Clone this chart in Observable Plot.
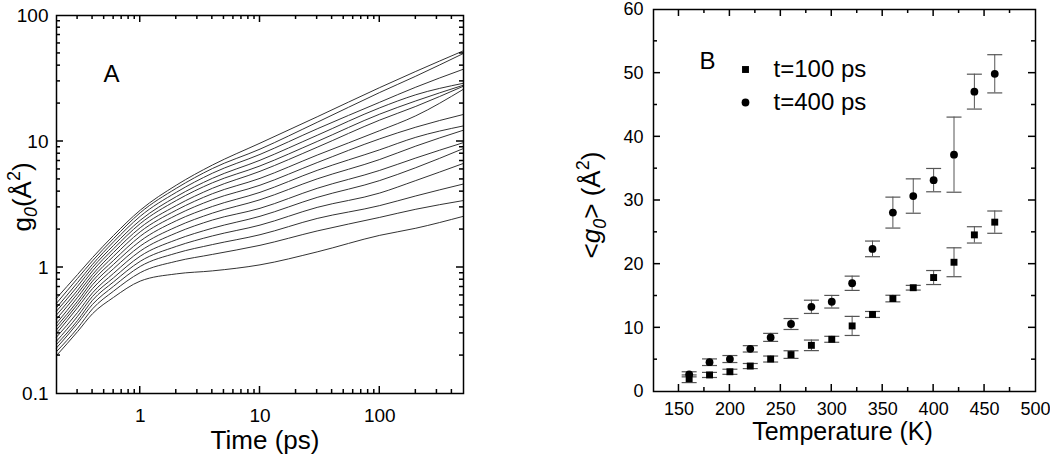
<!DOCTYPE html>
<html>
<head>
<meta charset="utf-8">
<script src="https://cdn.jsdelivr.net/npm/d3@7"></script>
<script src="https://cdn.jsdelivr.net/npm/@observablehq/plot@0.6"></script>
<style>
  body { margin: 0; background: #fff; }
  #wrap { position: relative; width: 1050px; height: 456px; overflow: hidden; background: #fff; }
  #wrap svg { position: absolute; top: 0; overflow: visible; }
</style>
</head>
<body>
<div id="wrap"></div>
<script>
// ---------------- Panel A data: g0(t) curves, one per temperature ----------------
const times = [0.2, 0.3, 0.4, 0.6, 1, 2, 4, 10, 30, 100, 200, 500];
const curveTemps = [160, 180, 200, 220, 240, 260, 280, 300, 320, 340, 360, 380, 400, 420, 440, 460];
const g160 = [0.20, 0.31, 0.43, 0.58, 0.78, 0.89, 0.94, 1.05, 1.33, 1.8, 2.05, 2.55];
const g180 = [0.215, 0.33, 0.47, 0.65, 0.91, 1.12, 1.27, 1.5, 1.95, 2.5, 2.9, 3.4];
const g200 = [0.23, 0.36, 0.51, 0.71, 1.02, 1.3, 1.52, 1.82, 2.45, 3.1, 3.7, 4.6];
const g220 = [0.245, 0.38, 0.55, 0.77, 1.12, 1.47, 1.78, 2.17, 3.0, 3.9, 4.9, 6.7];
const g240 = [0.26, 0.41, 0.59, 0.83, 1.23, 1.66, 2.05, 2.55, 3.6, 4.9, 6.2, 8.8];
const g260 = [0.28, 0.44, 0.63, 0.9, 1.35, 1.88, 2.38, 2.95, 4.25, 5.9, 7.4, 9.8];
const g280 = [0.30, 0.48, 0.68, 0.98, 1.48, 2.1, 2.7, 3.45, 5.05, 7.2, 9.2, 12.3];
const g300 = [0.32, 0.51, 0.73, 1.06, 1.62, 2.35, 3.05, 3.95, 5.9, 8.6, 10.8, 13.3];
const g320 = [0.34, 0.54, 0.78, 1.14, 1.77, 2.6, 3.45, 4.5, 6.8, 10.5, 13, 16.4];
const g340 = [0.36, 0.58, 0.83, 1.23, 1.92, 2.85, 3.85, 5.1, 7.8, 12.2, 16, 26];
const g360 = [0.39, 0.62, 0.88, 1.32, 2.07, 3.1, 4.25, 5.8, 9.0, 14.8, 19, 27.5];
const g380 = [0.42, 0.66, 0.94, 1.41, 2.23, 3.4, 4.7, 6.4, 10.0, 16.5, 21, 28];
const g400 = [0.45, 0.71, 1.0, 1.5, 2.37, 3.65, 5.1, 7.1, 11.2, 18.5, 23.5, 29];
const g420 = [0.48, 0.76, 1.06, 1.6, 2.55, 3.95, 5.6, 7.9, 12.6, 20.5, 27, 37.5];
const g440 = [0.52, 0.82, 1.13, 1.7, 2.72, 4.25, 6.1, 8.7, 14.2, 24.5, 33, 50];
const g460 = [0.57, 0.88, 1.2, 1.8, 2.85, 4.5, 6.5, 9.7, 15.7, 26.8, 36, 52.5];
const curves = [g160, g180, g200, g220, g240, g260, g280, g300, g320, g340, g360, g380, g400, g420, g440, g460];

const xTicksA = [1, 10, 100];
const yTicksA = [0.1, 1, 10, 100];

// ---------------- Panel B data: <g0> vs temperature ----------------
const temps = [160, 180, 200, 220, 240, 260, 280, 300, 320, 340, 360, 380, 400, 420, 440, 460];
const g0_100ps = [2.0, 2.6, 3.1, 4.0, 5.1, 5.8, 7.25, 8.2, 10.3, 12.1, 14.6, 16.3, 17.9, 20.3, 24.6, 26.6];
const err_100ps = [0.6, 0.4, 0.4, 0.4, 0.47, 0.6, 0.83, 0.47, 1.5, 0.47, 0.52, 0.37, 1.1, 2.27, 1.28, 1.75];
const g0_400ps = [2.7, 4.6, 5.1, 6.7, 8.5, 10.6, 13.3, 14.1, 17.0, 22.4, 28.1, 30.7, 33.2, 37.2, 47.1, 49.9];
const err_400ps = [0.4, 0.52, 0.55, 0.5, 0.63, 0.86, 1.04, 0.99, 1.12, 1.23, 2.43, 2.7, 1.83, 5.9, 2.74, 3.0];
const seriesNames = ["t=100 ps", "t=400 ps"];

const xTicksB = [150, 200, 250, 300, 350, 400, 450, 500];
const yTicksB = [0, 10, 20, 30, 40, 50, 60];

// ---------------- helpers ----------------
const FONT = "Arial, 'Liberation Sans', Helvetica, sans-serif";
const H = 456;

function logMinor(lo, hi) {
  const out = [];
  for (const dec of [0.1, 1, 10, 100])
    for (let k = 2; k <= 9; k++) {
      const v = +(k * dec).toPrecision(3);
      if (v > lo && v < hi) out.push(v);
    }
  return out;
}
const CAP = {draw(ctx, size) { const r = Math.sqrt(size / Math.PI); ctx.moveTo(-r, 0); ctx.lineTo(r, 0); }};

// inward ticks on all four sides, positioned with the plot's own x/y scales
function inwardTicks(svg, xMaj, xMin, yMaj, yMin) {
  const sx = svg.scale("x"), sy = svg.scale("y");
  const [xl, xr] = [Math.min(...sx.range), Math.max(...sx.range)];
  const [yt, yb] = [Math.min(...sy.range), Math.max(...sy.range)];
  const g = d3.select(svg).append("g").attr("stroke", "#000").attr("stroke-width", 1.5)
    .attr("aria-label", "inward ticks");
  for (const [vals, len] of [[xMaj, 7], [xMin, 4]]) for (const v of vals) {
    const x = sx.apply(v);
    g.append("line").attr("x1", x).attr("x2", x).attr("y1", yb).attr("y2", yb - len);
    g.append("line").attr("x1", x).attr("x2", x).attr("y1", yt).attr("y2", yt + len);
  }
  for (const [vals, len] of [[yMaj, 7], [yMin, 4]]) for (const v of vals) {
    const y = sy.apply(v);
    g.append("line").attr("y1", y).attr("y2", y).attr("x1", xl).attr("x2", xl + len);
    g.append("line").attr("y1", y).attr("y2", y).attr("x1", xr).attr("x2", xr - len);
  }
}

// ---------------- Panel A ----------------
const rowsA = [];
curves.forEach((arr, k) => arr.forEach((g, j) => rowsA.push({T: curveTemps[k], t: times[j], g})));

const svgA = Plot.plot({
  width: 520, height: H,
  marginLeft: 56, marginRight: 57, marginTop: 15, marginBottom: 63,
  style: {fontFamily: FONT, background: "transparent", color: "#000"},
  x: {type: "log", domain: [0.2, 500], label: null},
  y: {type: "log", domain: [0.1, 100], label: null},
  marks: [
    Plot.line(rowsA, {x: "t", y: "g", z: "T", stroke: "#333", strokeWidth: 1, curve: "monotone-x"}),
    Plot.frame({stroke: "#000", strokeWidth: 1.5}),
    Plot.axisX({ticks: xTicksA, anchor: "bottom", tickSize: 0, tickPadding: 15, label: null,
                fontSize: 19, tickFormat: d => String(d)}),
    Plot.axisY({ticks: yTicksA, anchor: "left", tickSize: 0, tickPadding: 8, label: null,
                fontSize: 19, tickFormat: d => String(d)}),
    Plot.text(["A"], {frameAnchor: "top-left", dx: 55, dy: 59, text: d => d, fontSize: 24,
                      textAnchor: "middle", lineAnchor: "middle"}),
    Plot.text(["Time (ps)"], {frameAnchor: "bottom", dx: 5, dy: 37, text: d => d, fontSize: 26,
                              textAnchor: "middle", lineAnchor: "top"})
  ]
});
svgA.style.left = "0px";

// ---------------- Panel B ----------------
const rowsB = [];
temps.forEach((T, i) => {
  rowsB.push({T, s: seriesNames[0], v: g0_100ps[i], e: err_100ps[i]});
  rowsB.push({T, s: seriesNames[1], v: g0_400ps[i], e: err_400ps[i]});
});

const svgB = Plot.plot({
  width: 530, height: H,
  marginLeft: 133, marginRight: 15, marginTop: 9, marginBottom: 65,
  style: {fontFamily: FONT, background: "transparent", color: "#000"},
  x: {domain: [125, 500], label: null},
  y: {domain: [0, 60], label: null},
  marks: [
    Plot.ruleX(rowsB, {x: "T", y1: d => d.v - d.e, y2: d => d.v + d.e, stroke: "#555", strokeWidth: 1}),
    Plot.dot(rowsB, {x: "T", y: d => d.v - d.e, symbol: CAP, r: 7.5, stroke: "#555", strokeWidth: 1.2, fill: "none"}),
    Plot.dot(rowsB, {x: "T", y: d => d.v + d.e, symbol: CAP, r: 7.5, stroke: "#555", strokeWidth: 1.2, fill: "none"}),
    Plot.dot(rowsB.filter(d => d.s === seriesNames[0]), {x: "T", y: "v", symbol: "square", r: 3.9, fill: "#000", stroke: "none"}),
    Plot.dot(rowsB.filter(d => d.s === seriesNames[1]), {x: "T", y: "v", symbol: "circle", r: 3.9, fill: "#000", stroke: "none"}),
    Plot.frame({stroke: "#000", strokeWidth: 1.5}),
    Plot.axisX({ticks: xTicksB, anchor: "bottom", tickSize: 0, tickPadding: 11, label: null, fontSize: 18}),
    Plot.axisY({ticks: yTicksB, anchor: "left", tickSize: 0, tickPadding: 10, label: null, fontSize: 18}),
    // legend
    Plot.dot([seriesNames[0]], {frameAnchor: "top-left", dx: 92, dy: 60, symbol: "square", r: 3.9, fill: "#000"}),
    Plot.dot([seriesNames[1]], {frameAnchor: "top-left", dx: 92, dy: 93, symbol: "circle", r: 3.9, fill: "#000"}),
    Plot.text([seriesNames[0]], {frameAnchor: "top-left", dx: 120, dy: 60, text: d => d, fontSize: 24,
                                 textAnchor: "start", lineAnchor: "middle"}),
    Plot.text([seriesNames[1]], {frameAnchor: "top-left", dx: 120, dy: 93, text: d => d, fontSize: 24,
                                 textAnchor: "start", lineAnchor: "middle"}),
    Plot.text(["B"], {frameAnchor: "top-left", dx: 54, dy: 52, text: d => d, fontSize: 24,
                      textAnchor: "middle", lineAnchor: "middle"}),
    Plot.text(["Temperature (K)"], {frameAnchor: "bottom", dx: -2, dy: 31, text: d => d, fontSize: 25,
                                    textAnchor: "middle", lineAnchor: "top"})
  ]
});
svgB.style.left = "520px";

const wrap = document.getElementById("wrap");
wrap.appendChild(svgA);
wrap.appendChild(svgB);

inwardTicks(svgA, [1, 10, 100], logMinor(0.2, 500), [1, 10], logMinor(0.1, 100));
inwardTicks(svgB, [150, 200, 250, 300, 350, 400, 450], [175, 225, 275, 325, 375, 425, 475],
            [10, 20, 30, 40, 50], [5, 15, 25, 35, 45, 55]);

// ---------------- rotated y-axis titles with sub/superscripts ----------------
function yTitle(svg, x, y, parts) {
  const t = d3.select(svg).append("text")
    .attr("transform", `translate(${x},${y}) rotate(-90)`)
    .attr("text-anchor", "middle")
    .attr("font-family", FONT)
    .attr("font-size", 26)
    .attr("fill", "#000");
  for (const p of parts) {
    const s = t.append("tspan").text(p.text);
    if (p.size) s.attr("font-size", p.size);
    if (p.dy) s.attr("dy", p.dy);
    if (p.italic) s.attr("font-style", "italic");
  }
}
yTitle(svgA, 31, 197, [
  {text: "g"},
  {text: "0", size: 18, dy: 6, italic: true},
  {text: "(Å", dy: -6},
  {text: "2", size: 18, dy: -11},
  {text: ")", dy: 11}
]);
yTitle(svgB, 80, 205, [
  {text: "<"},
  {text: "g", italic: true},
  {text: "0", size: 18, dy: 6, italic: true},
  {text: "> (Å", dy: -6},
  {text: "2", size: 18, dy: -11},
  {text: ")", dy: 11}
]);
</script>
</body>
</html>
